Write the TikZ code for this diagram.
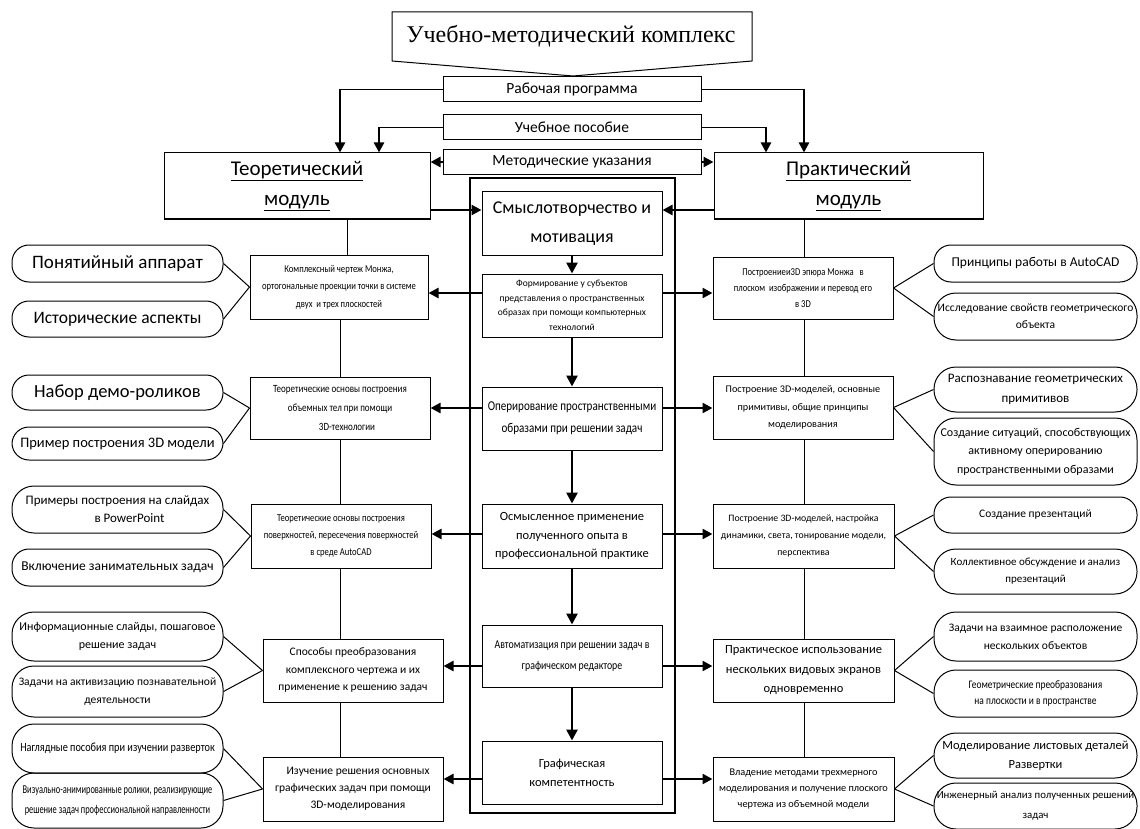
\documentclass[tikz,border=0pt]{standalone}
\usepackage{fontspec}
\setmainfont{Carlito}
\newfontfamily\serifrm{Liberation Serif}
\newfontfamily\cond[FakeStretch=0.82]{Carlito}
\newfontfamily\ncond[FakeStretch=0.7]{Carlito}
\usetikzlibrary{arrows.meta,calc}
\newcommand\fsz[2]{\fontsize{#1}{#2}\selectfont}
\begin{document}
\begin{tikzpicture}[x=1pt,y=-1pt,
  box/.style={draw, line width=1pt, align=center, inner sep=1pt},
  oval/.style={draw, line width=1pt, rounded corners=17pt, align=center, inner sep=1pt, minimum width=211pt},
  rov/.style={draw, line width=1pt, rounded corners=17pt, align=center, inner sep=1pt, minimum width=203pt},
  tall/.style={rounded corners=22pt},
  cbox/.style={box, minimum width=180pt},
  lbox/.style={box, minimum width=180pt},
  thinln/.style={line width=1pt},
  arr/.style={line width=2.4pt, -{Triangle[length=10pt,width=10pt]}},
  dnarr/.style={line width=2.6pt, -{Triangle[length=11pt,width=11pt]}},
]
\useasboundingbox (0,0) rectangle (1140,829);
\fill[white] (0,0) rectangle (1140,829);

% title
\draw[line width=1pt] (392,12) -- (752,12) -- (752,61) -- (573,76) -- (392,61) -- cycle;
\node[font={\serifrm\fsz{24}{28}}] (title) at (571,36) {Учебно-методический комплекс};

% resource boxes
\node[box, minimum width=258pt, minimum height=25pt, font={\fsz{15.5}{18}}] (rab) at (572,89.5) {Рабочая программа};
\node[box, minimum width=258pt, minimum height=25pt, font={\fsz{15.5}{18}}] (ucheb) at (572,127.5) {Учебное пособие};
\node[box, minimum width=258pt, minimum height=25pt, font={\fsz{15.5}{18}}] (metod) at (572,162) {Методические указания};

% modules
\node[box, minimum width=266pt, minimum height=66pt, font={\fsz{21}{30}}] (teor) at (297,186) {\underline{Теоретический}\\\underline{модуль}};
\node[box, minimum width=269pt, minimum height=66pt, font={\fsz{21}{30}}] (prak) at (848.5,186) {\underline{Практический}\\\underline{модуль}};

% frame
\node[draw, line width=1.2pt, minimum width=205pt, minimum height=635pt, inner sep=0pt] (frame) at (572.5,495.5) {};

% centre boxes
\node[cbox, minimum height=63pt, font={\fsz{18}{29}}] (smysl) at (572,223.5) {Смыслотворчество и\\мотивация};
\node[cbox, minimum height=63pt, font={\fsz{9.5}{14.5}}] (form) at (572,305.5) {Формирование у субъектов\\представления о пространственных\\образах при помощи компьютерных\\технологий};
\node[cbox, minimum height=63pt, font={\cond\fsz{13.5}{22}}] (oper) at (572,418.5) {Оперирование пространственными\\образами при решении задач};
\node[cbox, minimum height=64pt, font={\fsz{12.5}{18.5}}] (osm) at (572,536) {Осмысленное применение\\полученного опыта в\\профессиональной практике};
\node[cbox, minimum height=62pt, font={\cond\fsz{12}{21}}] (avt) at (572,656) {Автоматизация при решении задач в\\графическом редакторе};
\node[cbox, minimum height=63pt, font={\fsz{12.5}{19}}] (graf) at (572,772.5) {Графическая\\компетентность};

% left boxes
\node[lbox, minimum width=178pt, minimum height=64pt, font={\cond\fsz{10.5}{17.5}}] (kompl) at (339,287) {Комплексный чертеж Монжа,\\ортогональные проекции точки в системе\\двух\ \ и трех плоскостей};
\node[lbox, minimum height=62pt, font={\cond\fsz{11}{19}}] (teo2) at (340,408) {Теоретические основы построения\\объемных тел при помощи\hspace*{26pt}\\\hspace*{14pt}3D-технологии};
\node[lbox, minimum height=64pt, font={\cond\fsz{10.5}{17}}] (teo3) at (341,536) {Теоретические основы построения\\поверхностей, пересечения поверхностей\\в среде AutoCAD};
\node[lbox, minimum height=63pt, font={\fsz{11.5}{17.5}}] (spos) at (353,670.5) {Способы преобразования\\комплексного чертежа и их\\применение к решению задач};
\node[lbox, minimum height=64pt, font={\fsz{11.5}{17}}] (izuch) at (353,789) {\hspace*{10pt}Изучение решения основных\\графических задач при помощи\\\hspace*{10pt}3D-моделирования};

% right boxes
\node[lbox, minimum height=62pt, font={\cond\fsz{10.5}{16}}] (pr1) at (803,288) {Построениеи3D эпюра Монжа\ \ \ в\\плоском\ \ изображении и перевод его\\в 3D};
\node[lbox, minimum height=63pt, font={\fsz{10.2}{17.5}}] (pr2) at (803,407.5) {Построение 3D-моделей, основные\\примитивы, общие принципы\\моделирования};
\node[lbox, minimum width=181pt, minimum height=64pt, font={\fsz{9.8}{17}}] (pr3) at (803.5,536) {Построение 3D-моделей, настройка\\динамики, света, тонирование модели,\\перспектива};
\node[lbox, minimum width=181pt, minimum height=63pt, font={\fsz{12.5}{19.5}}] (prakt) at (803.5,670.5) {Практическое использование\\нескольких видовых экранов\\одновременно};
\node[lbox, minimum width=181pt, minimum height=64pt, font={\fsz{10.3}{16}}] (vlad) at (803.5,789) {Владение методами трехмерного\\моделирования и получение плоского\\чертежа из объемной модели};

% left ovals
\node[oval, minimum height=37pt, font={\fsz{19}{20}}] (o1) at (117.5,263.5) {Понятийный аппарат};
\node[oval, minimum height=36pt, font={\fsz{17.5}{20}}] (o2) at (117.5,319) {Исторические аспекты};
\node[oval, minimum height=35pt, font={\fsz{18.5}{20}}] (o3) at (117.5,392.5) {Набор демо-роликов};
\node[oval, minimum height=33pt, font={\fsz{14.5}{18}}] (o4) at (117.5,443.5) {Пример построения 3D модели};
\node[oval, tall, minimum height=47pt, font={\fsz{13}{18}}] (o5) at (117.5,509.5) {Примеры построения на слайдах\\\hspace*{24pt}в PowerPoint};
\node[oval, minimum height=37pt, font={\fsz{13.5}{18}}] (o6) at (117.5,567.5) {Включение занимательных задач};
\node[oval, tall, minimum height=49pt, font={\fsz{12}{18}}] (o7) at (117.5,636.5) {Информационные слайды, пошаговое\\решение задач};
\node[oval, tall, minimum height=51pt, font={\fsz{11.5}{18}}] (o8) at (117.5,691.5) {Задачи на активизацию познавательной\\деятельности};
\node[oval, tall, minimum height=49pt, font={\cond\fsz{12.5}{18}}] (o9) at (117.5,748.5) {Наглядные пособия при изучении разверток};
\node[oval, tall, minimum height=55pt, font={\ncond\fsz{12}{20}}] (o10) at (117.5,800.5) {Визуально-анимированные ролики, реализирующие\\решение задач профессиональной направленности};

% right ovals
\node[rov, minimum height=37pt, font={\fsz{13.5}{18}}] (p1) at (1035.5,263.5) {Принципы работы в AutoCAD};
\node[rov, tall, minimum height=47pt, font={\fsz{11.5}{17}}] (p2) at (1035.5,316.5) {Исследование свойств геометрического\\объекта};
\node[rov, tall, minimum height=45pt, font={\fsz{13}{20}}] (p3) at (1035.5,389.5) {Распознавание геометрических\\примитивов};
\node[rov, tall, minimum height=67pt, font={\fsz{12}{18.5}}] (p4) at (1035.5,451.5) {Создание ситуаций, способствующих\\активному оперированию\\пространственными образами};
\node[rov, minimum height=36pt, font={\fsz{11.5}{17}}] (p5) at (1035.5,515) {Создание презентаций};
\node[rov, tall, minimum height=45pt, font={\fsz{11}{17}}] (p6) at (1035.5,571.5) {Коллективное обсуждение и анализ\\презентаций};
\node[rov, tall, minimum height=49pt, font={\fsz{11.5}{18}}] (p7) at (1035.5,636.5) {Задачи на взаимное расположение\\нескольких объектов};
\node[rov, tall, minimum height=47pt, font={\cond\fsz{11.5}{16}}] (p8) at (1035.5,693.5) {Геометрические преобразования\\на плоскости и в пространстве};
\node[rov, tall, minimum height=45pt, font={\fsz{12.5}{19}}] (p9) at (1035.5,755.5) {Моделирование листовых деталей\\Развертки};
\node[rov, tall, minimum height=46pt, font={\fsz{10.8}{20}}] (p10) at (1035.5,806) {Инженерный анализ полученных решений\\задач};

% helper coordinates
\coordinate (ax1) at (340,0);
\coordinate (ax2) at (379,0);
\coordinate (ax3) at (804,0);
\coordinate (ax4) at (766,0);
\coordinate (lx0) at (347,0);
\coordinate (lx) at (340,0);
\coordinate (rx) at (804,0);
\coordinate (y0) at (0,210);
\coordinate (y1) at (0,293);
\coordinate (y2) at (0,408);
\coordinate (y3) at (0,534);
\coordinate (y4) at (0,666);
\coordinate (y5) at (0,779);

% resource connectors
\draw[thinln] (rab.west) -- (rab.west -| ax1);
\draw[arr] (rab.west -| ax1) -- (teor.north -| ax1);
\draw[thinln] (ucheb.west) -- (ucheb.west -| ax2);
\draw[arr] (ucheb.west -| ax2) -- (teor.north -| ax2);
\draw[thinln] (rab.east) -- (rab.east -| ax3);
\draw[arr] (rab.east -| ax3) -- (prak.north -| ax3);
\draw[thinln] (ucheb.east) -- (ucheb.east -| ax4);
\draw[arr] (ucheb.east -| ax4) -- (prak.north -| ax4);
\draw[arr] (metod.west) -- (metod.west -| teor.east);
\draw[arr] (metod.east) -- (metod.east -| prak.west);

% modules to centre
\draw[arr] (teor.east |- y0) -- (smysl.west |- y0);
\draw[arr] (prak.west |- y0) -- (smysl.east |- y0);

% centre chain
\draw[dnarr] (smysl.south) -- (form.north);
\draw[dnarr] (form.south) -- (oper.north);
\draw[dnarr] (oper.south) -- (osm.north);
\draw[dnarr] (osm.south) -- (avt.north);
\draw[dnarr] (avt.south) -- (graf.north);

% centre to sides
\draw[arr] (form.west |- y1) -- (kompl.east |- y1);
\draw[arr] (form.east |- y1) -- (pr1.west |- y1);
\draw[arr] (oper.west |- y2) -- (teo2.east |- y2);
\draw[arr] (oper.east |- y2) -- (pr2.west |- y2);
\draw[arr] (osm.west |- y3) -- (teo3.east |- y3);
\draw[arr] (osm.east |- y3) -- (pr3.west |- y3);
\draw[arr] (avt.west |- y4) -- (spos.east |- y4);
\draw[arr] (avt.east |- y4) -- (prakt.west |- y4);
\draw[arr] (graf.west |- y5) -- (izuch.east |- y5);
\draw[arr] (graf.east |- y5) -- (vlad.west |- y5);

% left vertical spine
\draw[thinln] (teor.south -| lx0) -- (kompl.north -| lx0);
\draw[thinln] (kompl.south -| lx) -- (teo2.north -| lx);
\draw[thinln] (teo2.south -| lx) -- (teo3.north -| lx);
\draw[thinln] (teo3.south -| lx) -- (spos.north -| lx);
\draw[thinln] (spos.south -| lx) -- (izuch.north -| lx);

% right vertical spine
\draw[thinln] (prak.south -| rx) -- (pr1.north -| rx);
\draw[thinln] (pr1.south -| rx) -- (pr2.north -| rx);
\draw[thinln] (pr2.south -| rx) -- (pr3.north -| rx);
\draw[thinln] (pr3.south -| rx) -- (prakt.north -| rx);
\draw[thinln] (prakt.south -| rx) -- (vlad.north -| rx);

% box to ovals
\foreach \b/\u/\l in {kompl/o1/o2, teo2/o3/o4, teo3/o5/o6, spos/o7/o8, izuch/o9/o10}{
  \draw[thinln] (\b.west) -- (\u.east);
  \draw[thinln] (\b.west) -- (\l.east);
}
\foreach \b/\u/\l in {pr1/p1/p2, pr2/p3/p4, pr3/p5/p6, prakt/p7/p8, vlad/p9/p10}{
  \draw[thinln] (\b.east) -- (\u.west);
  \draw[thinln] (\b.east) -- (\l.west);
}
\end{tikzpicture}
\end{document}
